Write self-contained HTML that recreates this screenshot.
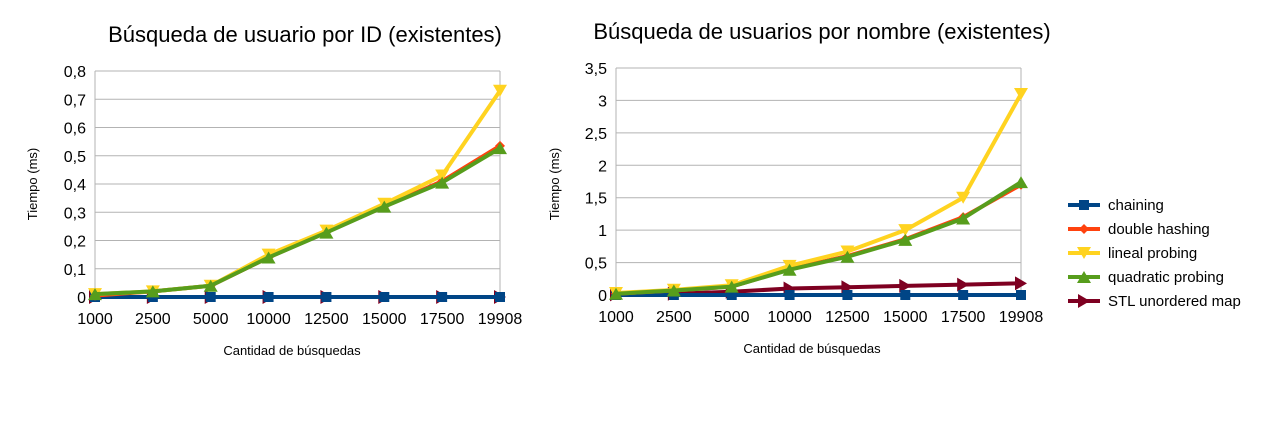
<!DOCTYPE html>
<html><head><meta charset="utf-8"><style>
html,body{margin:0;padding:0;background:#fff;}
svg{display:block;font-family:"Liberation Sans",sans-serif;}
</style></head><body>
<svg id="c" width="1284" height="425" viewBox="0 0 1284 425">
<text x="305" y="42" font-size="22" text-anchor="middle" fill="#000">Búsqueda de usuario por ID (existentes)</text>
<text x="822" y="39" font-size="22" text-anchor="middle" fill="#000">Búsqueda de usuarios por nombre (existentes)</text>
<text transform="translate(37,184) rotate(-90)" font-size="13" text-anchor="middle">Tiempo (ms)</text>
<text transform="translate(559,184) rotate(-90)" font-size="13" text-anchor="middle">Tiempo (ms)</text>
<text x="292" y="355" font-size="13" text-anchor="middle">Cantidad de búsquedas</text>
<text x="812" y="353" font-size="13" text-anchor="middle">Cantidad de búsquedas</text>
<g id="legend"></g>
</svg>
<script>
const categories = ["1000","2500","5000","10000","12500","15000","17500","19908"];
const seriesNames = ["chaining","double hashing","lineal probing","quadratic probing","STL unordered map"];
const leftTicks = ["0","0,1","0,2","0,3","0,4","0,5","0,6","0,7","0,8"];
const rightTicks = ["0","0,5","1","1,5","2","2,5","3","3,5"];
const leftChaining = [0,0,0,0,0,0,0,0];
const leftDouble = [0.005,0.02,0.04,0.14,0.23,0.32,0.41,0.535];
const leftLineal = [0.01,0.02,0.04,0.15,0.235,0.33,0.43,0.73];
const leftQuadratic = [0.01,0.02,0.04,0.14,0.228,0.32,0.405,0.527];
const leftSTL = [0,0,0,0,0,0,0,0];
const rightChaining = [0,0,0,0,0,0,0,0];
const rightDouble = [0.02,0.07,0.13,0.4,0.6,0.86,1.2,1.7];
const rightLineal = [0.03,0.08,0.15,0.45,0.67,1.0,1.5,3.1];
const rightQuadratic = [0.02,0.07,0.13,0.39,0.59,0.85,1.18,1.74];
const rightSTL = [0.01,0.02,0.05,0.1,0.12,0.14,0.16,0.18];

const NS="http://www.w3.org/2000/svg";
const svg=document.getElementById('c');
const colors=["#004586","#ff420e","#ffd320","#579d1c","#7e0021"];
function mk(tag,attrs,parent){const e=document.createElementNS(NS,tag);for(const k in attrs)e.setAttribute(k,attrs[k]);(parent||svg).appendChild(e);return e;}
function marker(g,type,x,y,col){
  let e;
  if(type===0){e=mk('rect',{x:x-5,y:y-5,width:10,height:10,fill:col},g);}
  else if(type===1){e=mk('polygon',{points:`${x},${y-5} ${x+5},${y} ${x},${y+5} ${x-5},${y}`,fill:col},g);}
  else if(type===2){e=mk('polygon',{points:`${x-7},${y-6} ${x+7},${y-6} ${x},${y+6}`,fill:col},g);}
  else if(type===3){e=mk('polygon',{points:`${x-7},${y+6} ${x+7},${y+6} ${x},${y-6}`,fill:col},g);}
  else {e=mk('polygon',{points:`${x-6},${y-7} ${x+6},${y} ${x-6},${y+7}`,fill:col},g);}
  return e;
}
function chart(prefix,x0,x1,yTop,yBot,maxV,step,ticks,series){
  const sx=i=>x0+(x1-x0)*i/(categories.length-1);
  const sy=v=>yBot-(yBot-yTop)*v/maxV;
  const grid=mk('g',{});
  
  
  ticks.forEach((t,i)=>{
    const y=sy(i*step);
    mk('line',{x1:x0,x2:x1,y1:y,y2:y,stroke:'#b3b3b3','stroke-width':1},grid);
    const tl=mk('text',{x:x0-9,y:y+6,'font-size':16,'text-anchor':'end'});
    tl.textContent=t;
    
    
  });
  mk('line',{x1:x0,x2:x0,y1:yTop,y2:yBot,stroke:'#b3b3b3'},grid);
  mk('line',{x1:x1,x2:x1,y1:yTop,y2:yBot,stroke:'#b3b3b3'},grid);
  categories.forEach((c,i)=>{
    const tl=mk('text',{x:sx(i),y:yBot+27,'font-size':16,'text-anchor':'middle'});
    tl.textContent=c;
    
    
  });
  const order=[4,0,1,2,3];
  order.forEach(si=>{
    const vals=series[si];
    const g=mk('g',{});
    
    
    mk('polyline',{points:vals.map((v,i)=>sx(i)+','+sy(v)).join(' '),fill:'none',stroke:colors[si],'stroke-width':4,'stroke-linejoin':'round'},g);
    vals.forEach((v,i)=>{const m=marker(g,si,sx(i),sy(v),colors[si]);
      
      });
  });
}
chart('left',95,500,71,297,0.8,0.1,leftTicks,[leftChaining,leftDouble,leftLineal,leftQuadratic,leftSTL]);
chart('right',616,1021,68,295,3.5,0.5,rightTicks,[rightChaining,rightDouble,rightLineal,rightQuadratic,rightSTL]);
const lg=document.getElementById('legend');
seriesNames.forEach((n,i)=>{
  const y=205+i*24;
  const g=mk('g',{},lg);
  
  
  mk('line',{x1:1068,x2:1100,y1:y,y2:y,stroke:colors[i],'stroke-width':4},g);
  marker(g,i,1084,y,colors[i]);
  const t=mk('text',{x:1108,y:y+5,'font-size':15},g);
  t.textContent=n;
});
</script>
</body></html>
